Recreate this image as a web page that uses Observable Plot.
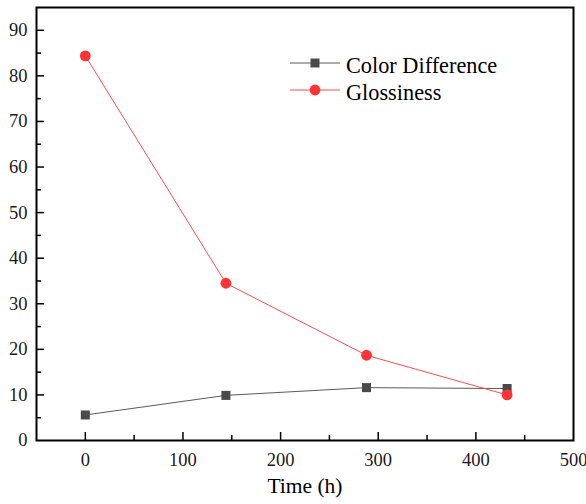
<!DOCTYPE html>
<html>
<head>
<meta charset="utf-8">
<script src="https://cdn.jsdelivr.net/npm/d3@7"></script>
<script src="https://cdn.jsdelivr.net/npm/@observablehq/plot@0.6"></script>
<style>
  html, body { margin: 0; padding: 0; background: #fff; }
</style>
</head>
<body>
<div id="chart"></div>
<script>
const time = [0, 144, 288, 432];
const colorDifference = [5.6, 9.9, 11.6, 11.4];
const glossiness = [84.4, 34.5, 18.7, 10.0];
const seriesNames = ["Color Difference", "Glossiness"];
const xTicks = [0, 100, 200, 300, 400, 500];
const xMinorTicks = [-50, 50, 150, 250, 350, 450];
const yTicks = [0, 10, 20, 30, 40, 50, 60, 70, 80, 90];
const yMinorTicks = [5, 15, 25, 35, 45, 55, 65, 75, 85];

const cd = time.map((t, i) => ({t, v: colorDifference[i]}));
const gl = time.map((t, i) => ({t, v: glossiness[i]}));

const W = 586, H = 504;
const mT = 7, mB = 64, mL = 36, mR = 13;
const innerH = H - mT - mB, innerW = W - mL - mR;
const serif = "'Liberation Serif', 'Times New Roman', serif";

const grayLine = "#5a5a5a", grayMark = "#4a4a4a";
const redLine = "#ff4d4d", redMark = "#ff3333";

const plot = Plot.plot({
  width: W, height: H,
  marginTop: mT, marginBottom: mB, marginLeft: mL, marginRight: mR,
  style: {fontFamily: serif, background: "#fff"},
  x: {domain: [-50, 500], axis: null},
  y: {domain: [0, 95], axis: null},
  marks: [
    Plot.text(xTicks, {x: d => d, frameAnchor: "bottom", lineAnchor: "bottom", dy: 25, text: d => String(d), fontSize: 18.5, fontFamily: serif, fill: "#1a1a1a"}),
    Plot.text(yTicks, {y: d => d, frameAnchor: "left", textAnchor: "end", dx: -9, text: d => String(d), fontSize: 18.5, fontFamily: serif, fill: "#1a1a1a"}),
    Plot.tickX(xTicks.filter(d => d < 500), {x: d => d, insetTop: innerH - 8, stroke: "#000", strokeWidth: 1.5}),
    Plot.tickX(xMinorTicks.filter(d => d > -50), {x: d => d, insetTop: innerH - 5, stroke: "#000", strokeWidth: 1.5}),
    Plot.tickY(yTicks.filter(d => d > 0), {y: d => d, insetRight: innerW - 8, stroke: "#000", strokeWidth: 1.5}),
    Plot.tickY(yMinorTicks, {y: d => d, insetRight: innerW - 5, stroke: "#000", strokeWidth: 1.5}),
    Plot.line(cd, {x: "t", y: "v", stroke: grayLine, strokeWidth: 1}),
    Plot.line(gl, {x: "t", y: "v", stroke: redLine, strokeWidth: 1}),
    Plot.dot(cd, {x: "t", y: "v", symbol: "square", r: 5.1, fill: grayMark, stroke: "none"}),
    Plot.dot(gl, {x: "t", y: "v", symbol: "circle", r: 5.4, fill: redMark, stroke: "none"}),
    Plot.frame({stroke: "#000", strokeWidth: 2}),
    Plot.text(["Time (h)"], {frameAnchor: "bottom", dy: 52, lineAnchor: "bottom", fontSize: 21.5, fontFamily: serif, fill: "#000"})
  ]
});

// legend
const svg = d3.select(plot);
const legend = svg.append("g").attr("text-anchor", "start");
const items = [
  {name: seriesNames[0], line: grayLine, mark: grayMark, sym: "square", y: 63, base: 72.5},
  {name: seriesNames[1], line: redLine, mark: redMark, sym: "circle", y: 90, base: 99.5}
];
items.forEach(it => {
  legend.append("line").attr("x1", 290).attr("x2", 340).attr("y1", it.y).attr("y2", it.y)
    .attr("stroke", it.line).attr("stroke-width", 1);
  if (it.sym === "square") {
    legend.append("rect").attr("x", 315 - 4.5).attr("y", it.y - 4.5).attr("width", 9).attr("height", 9).attr("fill", it.mark);
  } else {
    legend.append("circle").attr("cx", 315).attr("cy", it.y).attr("r", 5.4).attr("fill", it.mark);
  }
  legend.append("text").attr("x", 346).attr("y", it.base)
    .attr("text-anchor", "start").attr("font-size", 22.3).attr("fill", "#000").text(it.name);
});

svg.selectAll("text").attr("font-family", serif).style("font-family", serif);

document.getElementById("chart").appendChild(plot);
</script>
</body>
</html>
